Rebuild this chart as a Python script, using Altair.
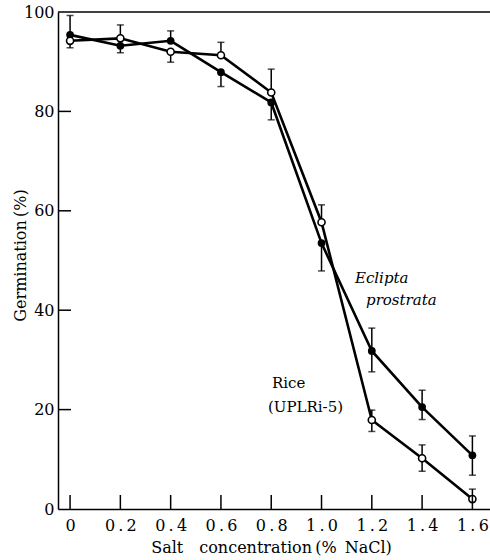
import altair as alt
import pandas as pd

# ---- data ----
salt = [0, 0.2, 0.4, 0.6, 0.8, 1.0, 1.2, 1.4, 1.6]

eclipta_mean = [95.4, 93.2, 94.2, 87.9, 81.8, 53.5, 31.8, 20.5, 10.8]
eclipta_low = [95.4, 91.8, 94.2, 85.0, 78.3, 47.9, 27.6, 18.0, 6.8]
eclipta_high = [99.3, 93.2, 96.2, 87.9, 81.8, 53.5, 36.4, 23.9, 14.7]

rice_mean = [94.2, 94.7, 92.0, 91.3, 83.8, 57.7, 17.9, 10.2, 2.0]
rice_low = [92.8, 94.7, 89.9, 91.3, 83.8, 57.7, 15.6, 7.6, 2.0]
rice_high = [94.2, 97.4, 92.0, 93.9, 88.5, 61.2, 19.9, 12.9, 4.0]

x_ticks = [0, 0.2, 0.4, 0.6, 0.8, 1.0, 1.2, 1.4, 1.6]
y_ticks = [0, 20, 40, 60, 80, 100]
y_inner_ticks = [20, 40, 60, 80]

W, H = 432, 497
FONT = "DejaVu Serif"
FS = 15
AFS = 16

ecl = pd.DataFrame({"x": salt, "y": eclipta_mean, "lo": eclipta_low, "hi": eclipta_high, "s": "Eclipta"})
ric = pd.DataFrame({"x": salt, "y": rice_mean, "lo": rice_low, "hi": rice_high, "s": "Rice"})
both = pd.concat([ecl, ric], ignore_index=True)

caps = pd.concat([
    both[both["hi"] > both["y"]][["x", "hi"]].rename(columns={"hi": "v"}),
    both[both["lo"] < both["y"]][["x", "lo"]].rename(columns={"lo": "v"}),
], ignore_index=True)

xscale = alt.Scale(domain=[-0.048, 1.67], nice=False, zero=False)
yscale = alt.Scale(domain=[0, 100], nice=False)

xaxis = alt.Axis(
    values=x_ticks, ticks=False, tickSize=0, grid=False,
    labelExpr="datum.value == 0 ? '0' : replace(format(datum.value, '.1f'), '.', '\u2009.\u2009')",
    labelFont=FONT, labelFontSize=AFS, labelColor="black", labelPadding=8,
    domainColor="black", domainWidth=1.5,
    title="Salt\u2002\u2002concentration\u2009(%\u2002NaCl)", titleFont=FONT, titleFontSize=AFS,
    titleFontWeight="normal", titleColor="black", titleX=213, titleY=38, titleBaseline="middle",
    titleAlign="center",
)
yaxis = alt.Axis(
    values=y_ticks, ticks=False, tickSize=0, grid=False,
    labelFont=FONT, labelFontSize=AFS, labelColor="black", labelPadding=4,
    domainColor="black", domainWidth=1.5,
    title="Germination\u2009(%)", titleFont=FONT, titleFontSize=AFS, titleFontWeight="normal",
    titleColor="black", titleX=-38, titleY=243, titleAngle=-90, titleBaseline="middle",
    titleAlign="center",
)

base_x = alt.X("x:Q", scale=xscale, axis=xaxis)
base_y = alt.Y("y:Q", scale=yscale, axis=yaxis)

lines = alt.Chart(both).mark_line(color="black", strokeWidth=2.6).encode(
    x=base_x, y=base_y, detail="s:N"
)

bars = alt.Chart(both).mark_rule(color="black", strokeWidth=1.5).encode(
    x=alt.X("x:Q", scale=xscale), y=alt.Y("lo:Q", scale=yscale), y2="hi:Q"
)

capmarks = alt.Chart(caps).mark_tick(color="black", orient="horizontal", size=7, thickness=1.5).encode(
    x=alt.X("x:Q", scale=xscale), y=alt.Y("v:Q", scale=yscale)
)

ecl_pts = alt.Chart(ecl).mark_circle(color="black", size=60, opacity=1).encode(
    x=alt.X("x:Q", scale=xscale), y=alt.Y("y:Q", scale=yscale)
)
ric_pts = alt.Chart(ric).mark_point(shape="circle", filled=True, fill="white", stroke="black",
                                    strokeWidth=1.6, size=50, opacity=1).encode(
    x=alt.X("x:Q", scale=xscale), y=alt.Y("y:Q", scale=yscale)
)

xt = alt.Chart(pd.DataFrame({"t": x_ticks})).mark_rule(color="black", strokeWidth=1.5).encode(
    x=alt.X("t:Q", scale=xscale), y=alt.value(H), y2=alt.value(H - 14)
)
yt = alt.Chart(pd.DataFrame({"t": y_inner_ticks})).mark_rule(color="black", strokeWidth=1.5).encode(
    y=alt.Y("t:Q", scale=yscale), x=alt.value(0), x2=alt.value(13)
)
top = alt.Chart(pd.DataFrame({"a": [0]})).mark_rule(color="black", strokeWidth=1.5).encode(
    x=alt.value(0), x2=alt.value(W), y=alt.value(0)
)

def label(txt, xv, yv, italic=False):
    return alt.Chart(pd.DataFrame({"a": [0]})).mark_text(
        text=txt, align="left", baseline="middle", font=FONT, fontSize=FS,
        fontStyle="italic" if italic else "normal", color="black"
    ).encode(x=alt.datum(xv, scale=xscale), y=alt.datum(yv, scale=yscale))

chart = alt.layer(
    lines, bars, capmarks, ecl_pts, ric_pts, xt, yt, top,
    label("Eclipta", 1.133, 46.5, True),
    label("prostrata", 1.177, 42.1, True),
    label("Rice", 0.803, 25.4),
    label("(UPLRi-5)", 0.787, 20.5),
).properties(
    width=W, height=H,
    autosize=alt.AutoSizeParams(type="none"),
    padding={"left": 58, "top": 12, "right": 0, "bottom": 51},
    background="white",
).configure_view(stroke=None)

chart.save("out.html", embed_options={"renderer": "svg", "actions": False})
